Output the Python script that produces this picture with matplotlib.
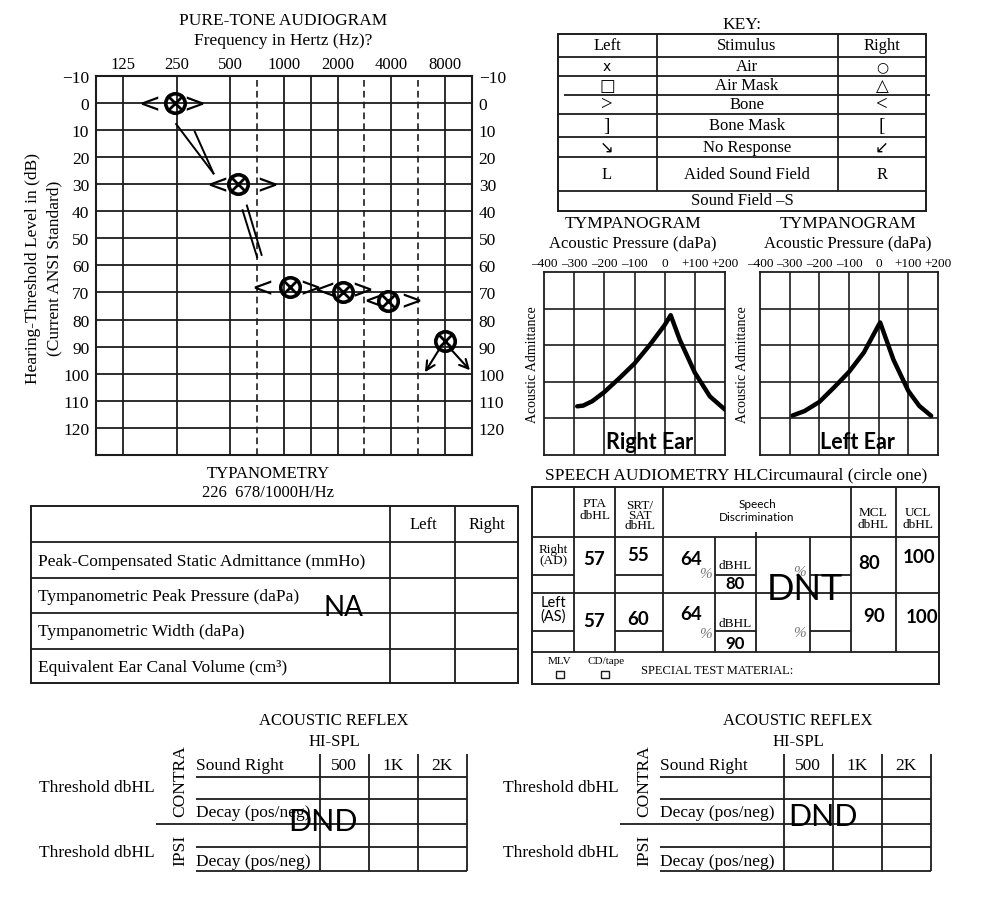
import numpy as np
import matplotlib
matplotlib.use("Agg")
import matplotlib.pyplot as plt
from matplotlib.patches import Rectangle
from matplotlib.transforms import Affine2D

# ---------------- data ----------------
freq_labels = ["125", "250", "500", "1000", "2000", "4000", "8000"]
db_levels = list(range(-10, 121, 10))
air_freqs = [250, 500, 1000, 2000, 4000, 8000]
air_db = [0, 30, 68, 70, 73, 88]
bone_freqs = [250, 500, 1000, 2000, 4000]
bone_db = [0, 30, 68, 69, 73]
no_response_freqs = [8000]
no_response_db = [88]

tymp_ticks = [-400, -300, -200, -100, 0, 100, 200]
tymp_tick_labels = ["–400", "–300", "–200", "–100", "0", "+100", "+200"]
right_pressure = [-290, -270, -240, -200, -150, -100, -50, 0, 20, 50, 100, 150, 200]
right_admit = [1.33, 1.35, 1.47, 1.72, 2.1, 2.5, 3.0, 3.55, 3.82, 3.15, 2.25, 1.6, 1.24]
left_pressure = [-290, -250, -200, -150, -100, -50, 0, 5, 50, 100, 137, 177]
left_admit = [1.08, 1.2, 1.45, 1.85, 2.27, 2.8, 3.55, 3.62, 2.6, 1.75, 1.34, 1.07]

key_left = ["x", "□", ">", "]", "↘", "L"]
key_stim = ["Air", "Air Mask", "Bone", "Bone Mask", "No Response", "Aided Sound Field"]
key_right = ["○", "△", "<", "[", "↙", "R"]

typ_rows = ["Peak-Compensated Static Admittance (mmHo)",
            "Tympanometric Peak Pressure (daPa)",
            "Tympanometric Width (daPa)",
            "Equivalent Ear Canal Volume (cm³)"]

speech_ears = ["Right\n(AD)", "Left\n(AS)"]
pta = [57, 57]
srt = [55, 60]
sd_score = [64, 64]
sd_level = [80, 90]
mcl = [80, 90]
ucl = [100, 100]

reflex_freqs = ["500", "1K", "2K"]

# ---------------- setup ----------------
SERIF = ["Liberation Serif", "DejaVu Serif", "DejaVu Sans"]
SANS = ["Lato", "DejaVu Sans"]
SYM = ["DejaVu Sans"]
plt.rcParams["font.family"] = SERIF
LC = "#1c1c1c"

W, H = 1000, 904
fig = plt.figure(figsize=(W / 100, H / 100), dpi=100)


def frect(l, t, r, b):
    return [l / W, 1 - b / H, (r - l) / W, (b - t) / H]


bg = fig.add_axes([0, 0, 1, 1])
bg.set_xlim(0, W)
bg.set_ylim(H, 0)
bg.axis("off")
bg.set_zorder(10)


def hl(y, x0, x1, lw=1.3):
    bg.plot([x0, x1], [y, y], color=LC, lw=lw, solid_capstyle="butt")


def vl(x, y0, y1, lw=1.3, **kw):
    bg.plot([x, x], [y0, y1], color=LC, lw=lw, solid_capstyle="butt", **kw)


def box(l, t, r, b, lw=1.4):
    bg.add_patch(Rectangle((l, t), r - l, b - t, fill=False, ec=LC, lw=lw))


def tx(x, y, s, size=12, ha="center", va="center", family=None, **kw):
    bg.text(x, y, s, fontsize=size, ha=ha, va=va,
            family=family if family is not None else SERIF, **kw)


# ---------------- audiogram ----------------
ax = fig.add_axes(frect(96.25, 76.7, 471.75, 456))
ax.set_xlim(-0.5, 6.5)
ax.set_ylim(130, -10)


def fidx(f):
    return float(np.log2(f / 125.0))


for y in db_levels:
    ax.axhline(y, color=LC, lw=1.3, zorder=1)
for i in range(len(freq_labels)):
    ax.axvline(i, color=LC, lw=1.3, zorder=1)
ax.axvline(3.5, color=LC, lw=1.3, zorder=1)
for xm in (2.5, 4.5, 5.5):
    ax.axvline(xm, color=LC, lw=1.2, ls=(0, (4, 2.5)), zorder=1)
for s in ax.spines.values():
    s.set_linewidth(1.5)
    s.set_color(LC)
ax.set_yticks(db_levels)
ax.set_yticklabels([("−" + str(-v)) if v < 0 else str(v) for v in db_levels])
ax.tick_params(axis="y", length=0, labelleft=True, labelright=True, labelsize=12.5, pad=5)
ax.xaxis.tick_top()
ax.set_xticks(range(len(freq_labels)))
ax.set_xticklabels(freq_labels)
ax.tick_params(axis="x", length=0, labelsize=12, pad=3)

tx(283, 21, "PURE-TONE AUDIOGRAM", 12.5)
tx(283, 41, "Frequency in Hertz (Hz)?", 12.5)
tx(33, 269, "Hearing-Threshold Level in (dB)", 12.5, rotation=90)
tx(54, 268, "(Current ANSI Standard)", 12.5, rotation=90)

air_dx = [-2, 8, 6, 5, -3, 0]          # hand placement (pixels)
for f, d, dx in zip(air_freqs, air_db, air_dx):
    tr = ax.transData + Affine2D().translate(dx, 0)
    ax.plot([fidx(f)], [d], marker="o", ms=14, mfc="none", mec="k", mew=2.6,
            transform=tr, clip_on=False, zorder=6)
    ax.plot([fidx(f)], [d], marker="x", ms=12, mec="k", mew=2.0,
            transform=tr, clip_on=False, zorder=6)


def apx(f, d, dx=0.0, dy=0.0):
    X, Y = ax.transData.transform((fidx(f), d))
    return X + dx, H - Y + dy


bone_left_dx = [-25, -21, -28, -18, -14]
bone_right_dx = [20, 29, 20, 20, 23]
for f, d, adx, ldx, rdx in zip(bone_freqs, bone_db, air_dx, bone_left_dx, bone_right_dx):
    cx, cy = apx(f, d, adx)
    tx(cx + ldx, cy + 8, "<", 19, va="baseline", family=SYM)
    tx(cx + rdx, cy + 8, ">", 19, va="baseline", family=SYM)

# hand-drawn double connecting lines (t0, perp0, t1, perp1)
conn = {0: [(0.17, -12, 0.77, -13), (0.34, -2, 0.77, -13)],
        1: [(0.20, -2, 0.64, -11), (0.22, -8, 0.64, -16)]}
for i, segs in conn.items():
    p0 = np.array(apx(air_freqs[i], air_db[i], air_dx[i]))
    p1 = np.array(apx(air_freqs[i + 1], air_db[i + 1], air_dx[i + 1]))
    d = p1 - p0
    u = d / np.linalg.norm(d)
    n = np.array([u[1], -u[0]])
    for t0, q0, t1, q1 in segs:
        a = p0 + d * t0 + n * q0
        b = p0 + d * t1 + n * q1
        bg.plot([a[0], b[0]], [a[1], b[1]], color="k", lw=1.4)

for f, d in zip(no_response_freqs, no_response_db):
    cx, cy = apx(f, d)
    for s, e in (((-5, 7), (-20, 31)), ((5, 7), (25, 29))):
        bg.annotate("", xy=(cx + e[0], cy + e[1]), xytext=(cx + s[0], cy + s[1]),
                    arrowprops=dict(arrowstyle="->", lw=1.5, color="k",
                                    mutation_scale=16, shrinkA=0, shrinkB=0))

# ---------------- key ----------------
tx(742, 25, "KEY:", 12.5)
box(558, 35, 926, 212)
for x in (657, 838):
    vl(x, 35, 192)
for y in (58, 77, 115, 138, 158, 192):
    hl(y, 558, 926)
hl(96, 564, 930)
tx(607, 46, "Left", 12)
tx(747, 46, "Stimulus", 12)
tx(882, 46, "Right", 12)
key_y = [67, 86, 105, 126, 148, 175]
key_sizes = [10, 12, 15, 14, 12, 12]
key_fams = [SYM, SYM, SERIF, SERIF, SYM, SERIF]
for y, l, s, r, fs, fam in zip(key_y, key_left, key_stim, key_right, key_sizes, key_fams):
    tx(607, y, l, fs, family=fam)
    tx(747, y, s, 12)
    tx(882, y, r, fs, family=fam)
tx(742, 201, "Sound Field –S", 12)

# ---------------- tympanograms ----------------
def tymp(l, r, pres, adm, title_x, label, label_x, ylab_x):
    t = fig.add_axes(frect(l, 273, r, 456))
    t.set_xlim(-400, 200)
    t.set_ylim(0, 5)
    for x in range(-300, 200, 100):
        t.axvline(x, color=LC, lw=1.2)
    for y in range(1, 5):
        t.axhline(y, color=LC, lw=1.2)
    t.plot(pres, adm, color="k", lw=3.2, solid_capstyle="round", zorder=5)
    t.xaxis.tick_top()
    t.set_xticks(tymp_ticks)
    t.set_xticklabels(tymp_tick_labels)
    t.tick_params(axis="x", length=0, labelsize=9.5, pad=2)
    t.set_yticks([])
    for s in t.spines.values():
        s.set_linewidth(1.3)
        s.set_color(LC)
    tx(title_x, 224, "TYMPANOGRAM", 12.5)
    tx(title_x, 243, "Acoustic Pressure (daPa)", 12)
    tx(ylab_x, 365, "Acoustic Admittance", 10, rotation=90)
    tx(label_x, 443, label, 15.5, family=SANS, weight="bold")


tymp(544, 725, right_pressure, right_admit, 633, "Right Ear", 650, 532)
tymp(760, 938, left_pressure, left_admit, 848, "Left Ear", 857, 743)

# ---------------- typanometry table ----------------
tx(268, 474, "TYPANOMETRY", 12)
tx(268, 493, "226  678/1000H/Hz", 12)
box(31, 507, 518, 684)
for x in (390, 455):
    vl(x, 507, 684)
for y in (543, 579, 614, 650):
    hl(y, 31, 518)
tx(423, 525, "Left", 12)
tx(487, 525, "Right", 12)
for y, s in zip([562, 597, 632, 668], typ_rows):
    tx(38, y, s, 12.5, ha="left")
tx(343, 608, "NA", 20, family=SANS)

# ---------------- speech audiometry ----------------
tx(736, 475, "SPEECH AUDIOMETRY HLCircumaural (circle one)", 12.5)
box(532, 488, 939, 685)
for x in (574, 615, 663, 851, 896):
    vl(x, 488, 653)
for y in (538, 594, 653):
    hl(y, 532, 939)
for y in (576, 632):
    for x0, x1 in ((532, 574), (615, 663), (715, 756), (810, 851)):
        hl(y, x0, x1)
vl(715, 538, 653)
vl(756, 533, 653)
vl(810, 538, 653)
tx(595, 510, "PTA\ndbHL", 9.5, linespacing=0.9)
tx(640, 516, "SRT/\nSAT\ndbHL", 9.5, linespacing=0.82)
tx(757, 511, "Speech\nDiscrimination", 8.5, family=SANS, linespacing=1.3)
tx(873, 519, "MCL\ndbHL", 9.5, linespacing=0.9)
tx(918, 519, "UCL\ndbHL", 9.5, linespacing=0.9)
tx(553, 556, speech_ears[0], 9.5, linespacing=0.9)
tx(553, 610, speech_ears[1], 10.5, family=SANS, linespacing=1.0)

rows_y = [
    dict(pta=560, srt=556, sd=560, pct=575, dbhl=566, lvl=584, pct2=573, mcl=564, ucl=558, mclx=869, uclx=919),
    dict(pta=622, srt=620, sd=615, pct=635, dbhl=624, lvl=644, pct2=634, mcl=617, ucl=618, mclx=874, uclx=922),
]
for i, ry in enumerate(rows_y):
    tx(594, ry["pta"], str(pta[i]), 13.5, family=SANS, weight="bold")
    tx(638, ry["srt"], str(srt[i]), 13.5, family=SANS, weight="bold")
    tx(691, ry["sd"], str(sd_score[i]), 13.5, family=SANS, weight="bold")
    tx(705, ry["pct"], "%", 11, style="italic", color="#777777")
    tx(735, ry["dbhl"], "dBHL", 9.5)
    tx(735, ry["lvl"], str(sd_level[i]), 12, family=SANS, weight="bold")
    tx(800, ry["pct2"], "%", 11, style="italic", color="#777777")
    tx(ry["mclx"], ry["mcl"], str(mcl[i]), 13.5, family=SANS, weight="bold")
    tx(ry["uclx"], ry["ucl"], str(ucl[i]), 13.5, family=SANS, weight="bold")
tx(805, 590, "DNT", 26, family=SANS)
tx(560, 662, "MLV", 8)
tx(606, 662, "CD/tape", 8)
for x in (560, 605):
    bg.add_patch(Rectangle((x - 4, 672), 8, 7, fill=False, ec=LC, lw=1.0))
tx(641, 671, "SPECIAL TEST MATERIAL:", 9, ha="left")

# ---------------- acoustic reflex ----------------
for ox, dnd in ((0, (323, 822)), (464, (823, 817))):
    tx(334 + ox, 721, "ACOUSTIC REFLEX", 12)
    tx(334 + ox, 742, "HI-SPL", 12)
    for y in (778, 800, 848, 872):
        hl(y, 196 + ox, 467 + ox)
    hl(825, 156 + ox, 467 + ox)
    for x in (320, 369, 418, 467):
        vl(x + ox, 755, 872)
    tx(196 + ox, 766, "Sound Right", 12.5, ha="left")
    for cx, s in zip((344, 393, 442), reflex_freqs):
        tx(cx + ox, 766, s, 12.5)
    tx(39 + ox, 788, "Threshold dbHL", 12.5, ha="left")
    tx(39 + ox, 853, "Threshold dbHL", 12.5, ha="left")
    tx(180 + ox, 781, "CONTRA", 12.5, rotation=90)
    tx(180 + ox, 850, "IPSI", 12.5, rotation=90)
    tx(196 + ox, 813, "Decay (pos/neg)", 12.5, ha="left")
    tx(196 + ox, 862, "Decay (pos/neg)", 12.5, ha="left")
    tx(dnd[0], dnd[1], "DND", 22, family=SANS)

fig.savefig("out.png", dpi=100)
